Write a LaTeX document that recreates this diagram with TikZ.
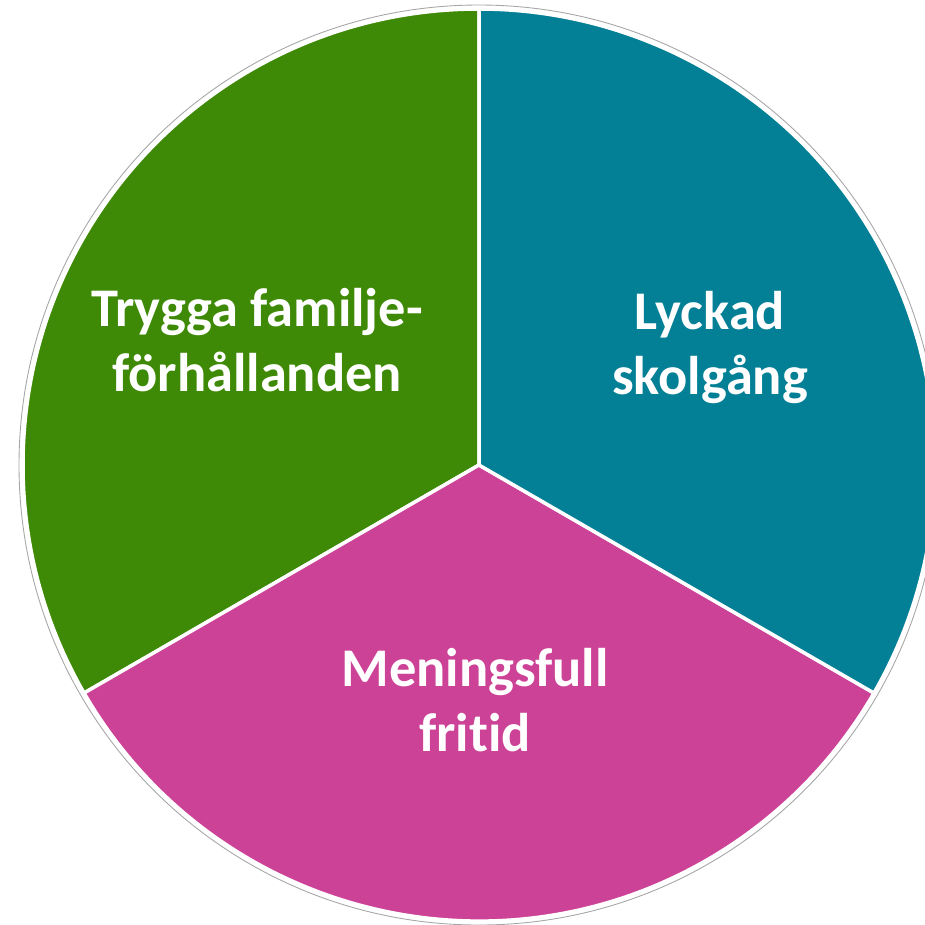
\documentclass[tikz,border=0pt]{standalone}
\usepackage{fontspec}
\setmainfont[Ligatures=NoCommon]{Carlito}
\usetikzlibrary{positioning}
\definecolor{famgreen}{RGB}{62,137,6}
\definecolor{schoolteal}{RGB}{4,128,150}
\definecolor{leisurepink}{RGB}{204,66,150}

\tikzset{
  piepart/.style={draw=white, line width=0.07cm, line join=round},
  pielabel/.style={text=white, font=\fontsize{31}{37}\selectfont\bfseries, align=center}
}

\begin{document}
\begin{tikzpicture}[x=0.02cm, y=0.02cm]
    \useasboundingbox (0,0) rectangle (925,-924);
    \coordinate (c) at (479,-465);
    % the three parts
    \filldraw [piepart, fill=famgreen] (c) -- ++(90:456) arc (90:210:456) -- cycle;
    \filldraw [piepart, fill=leisurepink] (c) -- ++(210:456) arc (210:330:456) -- cycle;
    \filldraw [piepart, fill=schoolteal] (c) -- ++(330:456) arc (-30:90:456) -- cycle;
    \draw [gray!70, line width=0.5pt] (c) circle (460);
    \node [pielabel] (fam) at (257,-340) {Trygga familje-\\förhållanden};
    \node [pielabel] (school) at (710,-347) {Lyckad\\skolgång};
    \node [pielabel] (leisure) at (475,-700) {Meningsfull\\fritid};
  \end{tikzpicture}
\end{document}
